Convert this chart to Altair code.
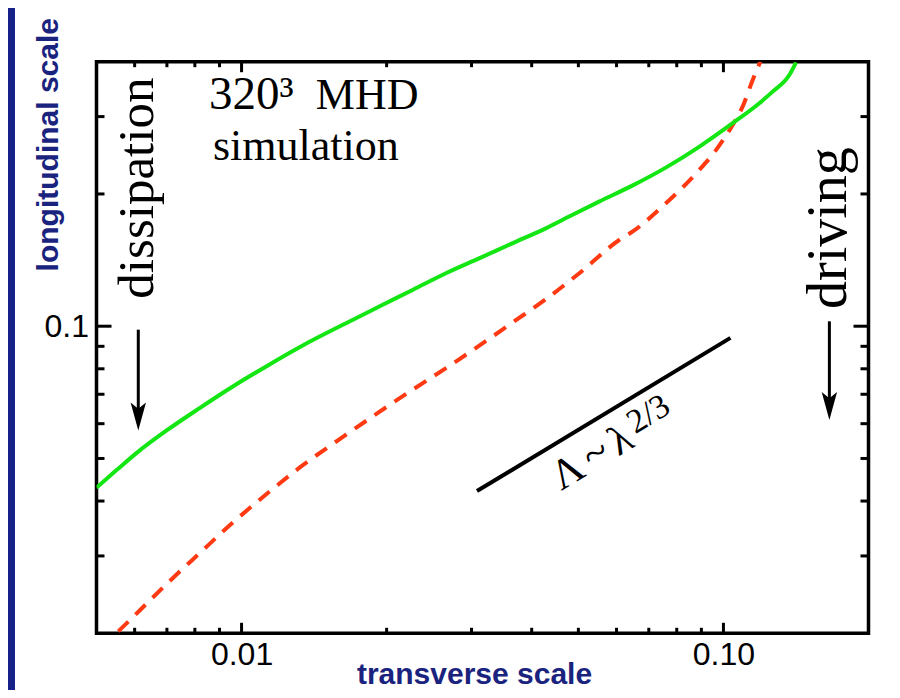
import altair as alt
import pandas as pd

# ---- data ----
green_x = [0.00500, 0.00551, 0.00606, 0.00699, 0.00820, 0.00961, 0.01127, 0.01342, 0.01651,
           0.01935, 0.02269, 0.02661, 0.03119, 0.03657, 0.04290, 0.04795, 0.05532, 0.06485,
           0.07606, 0.08918, 0.1045, 0.1187, 0.1265, 0.1370, 0.1415]
green_y = [0.0429, 0.0471, 0.0515, 0.0579, 0.0652, 0.0730, 0.0811, 0.0905, 0.1017,
           0.1110, 0.1211, 0.1322, 0.1429, 0.1546, 0.1672, 0.1779, 0.1924, 0.2092,
           0.2299, 0.2564, 0.2898, 0.3218, 0.3419, 0.3730, 0.3988]

red_x = [0.00555, 0.00616, 0.00699, 0.00820, 0.00961, 0.01127, 0.01321, 0.01651, 0.01935,
         0.02269, 0.02661, 0.03119, 0.03657, 0.04290, 0.05029, 0.06087, 0.06485, 0.07606,
         0.08918, 0.09658, 0.1045, 0.1096, 0.1150, 0.1193]
red_y = [0.0202, 0.0226, 0.0259, 0.0305, 0.0358, 0.0415, 0.0477, 0.0567, 0.0639,
         0.0718, 0.0804, 0.0904, 0.1021, 0.1154, 0.1322, 0.1573, 0.1643, 0.1907,
         0.2270, 0.2520, 0.2872, 0.3161, 0.3634, 0.4000]

ref_x = [0.0308, 0.1034]
ref_y = [0.04215, 0.09406]

x_label_values = [0.01, 0.1]
y_label_values = [0.1]
x_major_ticks = [0.01, 0.1]
x_minor_ticks = [0.006, 0.007, 0.008, 0.009, 0.02, 0.03, 0.04, 0.05, 0.06, 0.07, 0.08, 0.09]
y_major_ticks = [0.1]
y_minor_ticks = [0.03, 0.04, 0.05, 0.06, 0.07, 0.08, 0.09, 0.2, 0.3]

arrow_x = [0.006105, 0.1659]
arrow_top = [0.0982, 0.1026]
arrow_head = [0.0623, 0.0658]

title_text = ["320\u00b3", "MHD", "simulation"]
title_x = [0.008555, 0.014256, 0.008720]
title_y = [0.3115, 0.3115, 0.2385]
title_size = [47, 44, 44]

side_text = ["dissipation", "driving"]
side_x = [0.006557, 0.1796]
side_y = [0.2062, 0.1672]
side_size = [51, 56]

law_text = ["\u039b", "~", "\u03bb", "2/3"]
law_x = [0.04608, 0.05358, 0.06058, 0.06560]
law_y = [0.04215, 0.04661, 0.05055, 0.05680]
law_size = [42, 44, 42, 34]

# ---- layout ----
W, H = 772, 571.6
PAD = {"left": 88.5, "top": 53.7, "right": 23.5, "bottom": 56.7}
NAVY = "#1a237e"

xs = alt.Scale(type="log", domain=[0.005, 0.2], nice=False)
ys = alt.Scale(type="log", domain=[0.02, 0.4], nice=False)

x_axis = alt.Axis(values=x_label_values, format=".2f", ticks=False, tickSize=0, domain=False,
                  grid=False, labelFont="Liberation Sans", labelFontSize=32, labelColor="black",
                  labelPadding=6, labelFlush=False, labelOverlap=False,
                  title="transverse scale", titleFont="Liberation Sans",
                  titleFontSize=30, titleFontWeight="bold", titleColor=NAVY,
                  titleX=377.5, titleY=50.5, titleBaseline="alphabetic", titleAlign="center",
                  titleAngle=0)
y_axis = alt.Axis(values=y_label_values, format=".1f", ticks=False, tickSize=0, domain=False,
                  grid=False, labelFont="Liberation Sans", labelFontSize=32, labelColor="black",
                  labelPadding=8, labelFlush=False, labelOverlap=False,
                  title="longitudinal scale", titleFont="Liberation Sans",
                  titleFontSize=30, titleFontWeight="bold", titleColor=NAVY,
                  titleX=-39.5, titleY=82.5, titleBaseline="alphabetic", titleAlign="center",
                  titleAngle=270)


def X(f="x"):
    return alt.X(f"{f}:Q", scale=xs, axis=x_axis)


def Y(f="y"):
    return alt.Y(f"{f}:Q", scale=ys, axis=y_axis)


one = pd.DataFrame({"a": [0]})
strip = alt.Chart(one).mark_rect(color="#16228a").encode(
    x=alt.value(-PAD["left"]), x2=alt.value(-PAD["left"] + 7),
    y=alt.value(-PAD["top"]), y2=alt.value(H + PAD["bottom"]))

green = alt.Chart(pd.DataFrame({"x": green_x, "y": green_y})).mark_line(
    color="#14e614", strokeWidth=4, clip=True, interpolate="monotone").encode(x=X(), y=Y())
red = alt.Chart(pd.DataFrame({"x": red_x, "y": red_y})).mark_line(
    color="#ff3a12", strokeWidth=4, strokeDash=[14, 10], clip=True,
    interpolate="monotone").encode(x=X(), y=Y())
ref = alt.Chart(pd.DataFrame({"x": ref_x, "y": ref_y})).mark_line(
    color="black", strokeWidth=4).encode(x=X(), y=Y())

tick_layers = []
for vals, ln in [(x_major_ticks, 10.5), (x_minor_ticks, 5.5)]:
    d = pd.DataFrame({"x": vals})
    tick_layers.append(alt.Chart(d).mark_rule(color="black", strokeWidth=3).encode(
        x=X(), y=alt.value(H), y2=alt.value(H - ln)))
    tick_layers.append(alt.Chart(d).mark_rule(color="black", strokeWidth=3).encode(
        x=X(), y=alt.value(0), y2=alt.value(ln)))
for vals, ln in [(y_major_ticks, 15), (y_minor_ticks, 8)]:
    d = pd.DataFrame({"y": vals})
    tick_layers.append(alt.Chart(d).mark_rule(color="black", strokeWidth=3).encode(
        y=Y(), x=alt.value(0), x2=alt.value(ln)))
    tick_layers.append(alt.Chart(d).mark_rule(color="black", strokeWidth=3).encode(
        y=Y(), x=alt.value(W), x2=alt.value(W - ln)))

arrows_df = pd.DataFrame({"x": arrow_x, "y": arrow_top, "y2": arrow_head})
arrow_lines = alt.Chart(arrows_df).mark_rule(color="black", strokeWidth=3).encode(
    x=X(), y=Y(), y2="y2:Q")
arrow_heads = alt.Chart(arrows_df).mark_point(
    shape="M0,1L-0.55,-1L0,-0.55L0.55,-1Z", size=784, filled=True, color="black",
    opacity=1, strokeWidth=0).encode(x=X(), y=Y("y2"))

titles = alt.Chart(pd.DataFrame({"x": title_x, "y": title_y, "t": title_text, "s": title_size})).mark_text(
    font="Liberation Serif", align="left", baseline="alphabetic", color="black").encode(
    x=X(), y=Y(), text="t:N", size=alt.Size("s:Q", scale=None))
side = alt.Chart(pd.DataFrame({"x": side_x, "y": side_y, "t": side_text, "s": side_size})).mark_text(
    font="Liberation Serif", align="center", baseline="alphabetic", color="black", angle=270).encode(
    x=X(), y=Y(), text="t:N", size=alt.Size("s:Q", scale=None))
law = alt.Chart(pd.DataFrame({"x": law_x, "y": law_y, "t": law_text, "s": law_size})).mark_text(
    font="Liberation Serif", align="left", baseline="alphabetic", color="black", angle=328.8).encode(
    x=X(), y=Y(), text="t:N", size=alt.Size("s:Q", scale=None))

chart = alt.layer(strip, ref, red, green, *tick_layers, arrow_lines, arrow_heads,
                  titles, side, law).properties(
    width=W, height=H, padding=PAD, autosize=alt.AutoSizeParams(type="none"),
    background="white").configure_view(stroke="black", strokeWidth=3.5)

chart.save("out.html", embed_options={"renderer": "svg", "actions": False})
